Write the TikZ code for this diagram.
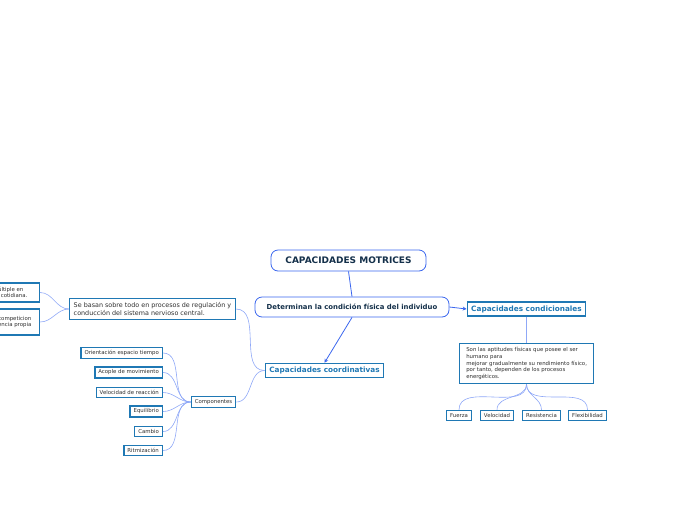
\documentclass[tikz,border=0pt]{standalone}
\usepackage{fontspec}
\setmainfont{DejaVu Sans}
\usetikzlibrary{arrows.meta}
\definecolor{boxblue}{HTML}{1F78B4}
\definecolor{linkblue}{HTML}{8FA8F7}
\definecolor{arrowblue}{HTML}{3A66EE}
\definecolor{titlenavy}{HTML}{14304A}
\definecolor{txtgray}{HTML}{303030}

\tikzset{
  mainbox/.style={draw=arrowblue, rounded corners=7pt, line width=0.8pt, fill=white,
    text=titlenavy, font=\bfseries},
  topicbox/.style={draw=boxblue, line width=1.4pt, fill=white, text=boxblue,
    font=\fontsize{7.3}{8.5}\selectfont\bfseries, inner xsep=4pt, inner ysep=3.5pt},
  leafbox/.style={draw=boxblue, line width=1.3pt, fill=white, text=txtgray,
    font=\fontsize{5.4}{6.5}\selectfont, inner xsep=3.5pt, inner ysep=3pt},
  link/.style={draw=linkblue, line width=0.6pt},
  arrowlink/.style={draw=arrowblue, line width=0.8pt, -{Stealth[length=4pt,width=4pt]}}
}

\begin{document}
\begin{tikzpicture}[x=1pt, y=-1pt]
\clip (0,0) rectangle (696,520);
\useasboundingbox (0,0) rectangle (696,520);

% central topic
\node[mainbox, minimum width=155pt, minimum height=21pt, font=\fontsize{9}{10}\selectfont\bfseries]
  (motrices) at (348.5,260.5) {CAPACIDADES MOTRICES};
\node[mainbox, minimum width=194pt, minimum height=20pt, font=\fontsize{6.9}{8}\selectfont\bfseries]
  (determinan) at (352,307) {Determinan la condición física del individuo};

% main branches
\node[topicbox] (condicionales) at (526.5,309) {Capacidades condicionales};
\node[topicbox] (coordinativas) at (324.5,370.5) {Capacidades coordinativas};

% condicionales side
\node[leafbox, align=left, font=\fontsize{5.4}{6.6}\selectfont, inner sep=4pt,
  minimum width=134pt, minimum height=39pt, anchor=north west]
  (aptitudes) at (459,343) {Son las aptitudes físicas que posee el ser\\humano para\\mejorar gradualmente su rendimiento físico,\\por tanto, dependen de los procesos\\energéticos.};
\node[leafbox] (fuerza) at (459,415.5) {Fuerza};
\node[leafbox] (velocidad) at (497,415.5) {Velocidad};
\node[leafbox] (resistencia) at (541.5,415.5) {Resistencia};
\node[leafbox] (flexibilidad) at (587.5,415.5) {Flexibilidad};

% coordinativas side
\node[leafbox, align=left, font=\fontsize{6.4}{7.8}\selectfont, inner sep=4pt]
  (sebasan) at (152.5,309) {Se basan sobre todo en procesos de regulación y\\conducción del sistema nervioso central.};
\node[leafbox, align=right, anchor=east, inner xsep=12pt, minimum height=19pt]
  (multiple) at (40,292.5) {Capacidad de respuesta múltiple en\hspace*{4pt}\\situaciones de la vida cotidiana.};
\node[leafbox, align=right, anchor=east, inner xsep=8pt, minimum height=26pt]
  (competicion) at (40,322) {Actividades deportivas de competicion\\con una exigencia propia};

\node[leafbox] (componentes) at (213.5,402) {Componentes};
\node[leafbox, anchor=east] (orientacion) at (163,353) {Orientación espacio tiempo};
\node[leafbox, anchor=east] (acople) at (163,372.5) {Acople de movimiento};
\node[leafbox, anchor=east] (reaccion) at (163,392.5) {Velocidad de reacción};
\node[leafbox, anchor=east] (equilibrio) at (163,411.5) {Equilibrio};
\node[leafbox, anchor=east] (cambio) at (163,431.5) {Cambio};
\node[leafbox, anchor=east] (ritmizacion) at (163,450.5) {Ritmización};

% connectors
\draw[arrowblue, line width=0.8pt] (motrices.south) -- (determinan.north);
\draw[arrowlink] (determinan.east) -- (condicionales.west);
\draw[arrowlink] (determinan.south) -- (coordinativas.north);

\draw[link] (condicionales.south) -- (aptitudes.north -| condicionales.south);
\foreach \leaf in {fuerza,velocidad,resistencia,flexibilidad}
  \draw[link] (aptitudes.south -| condicionales.south) to[out=-90,in=90] (\leaf.north);

\draw[link] (coordinativas.west) to[out=180,in=0] (sebasan.east);
\draw[link] (coordinativas.west) to[out=180,in=0] (componentes.east);
\draw[link] (sebasan.west) to[out=180,in=0] (multiple.east);
\draw[link] (sebasan.west) to[out=180,in=0] (competicion.east);
\foreach \leaf in {orientacion,acople,reaccion,equilibrio,cambio,ritmizacion}
  \draw[link] (componentes.west) to[out=180,in=0] (\leaf.east);

\end{tikzpicture}
\end{document}
